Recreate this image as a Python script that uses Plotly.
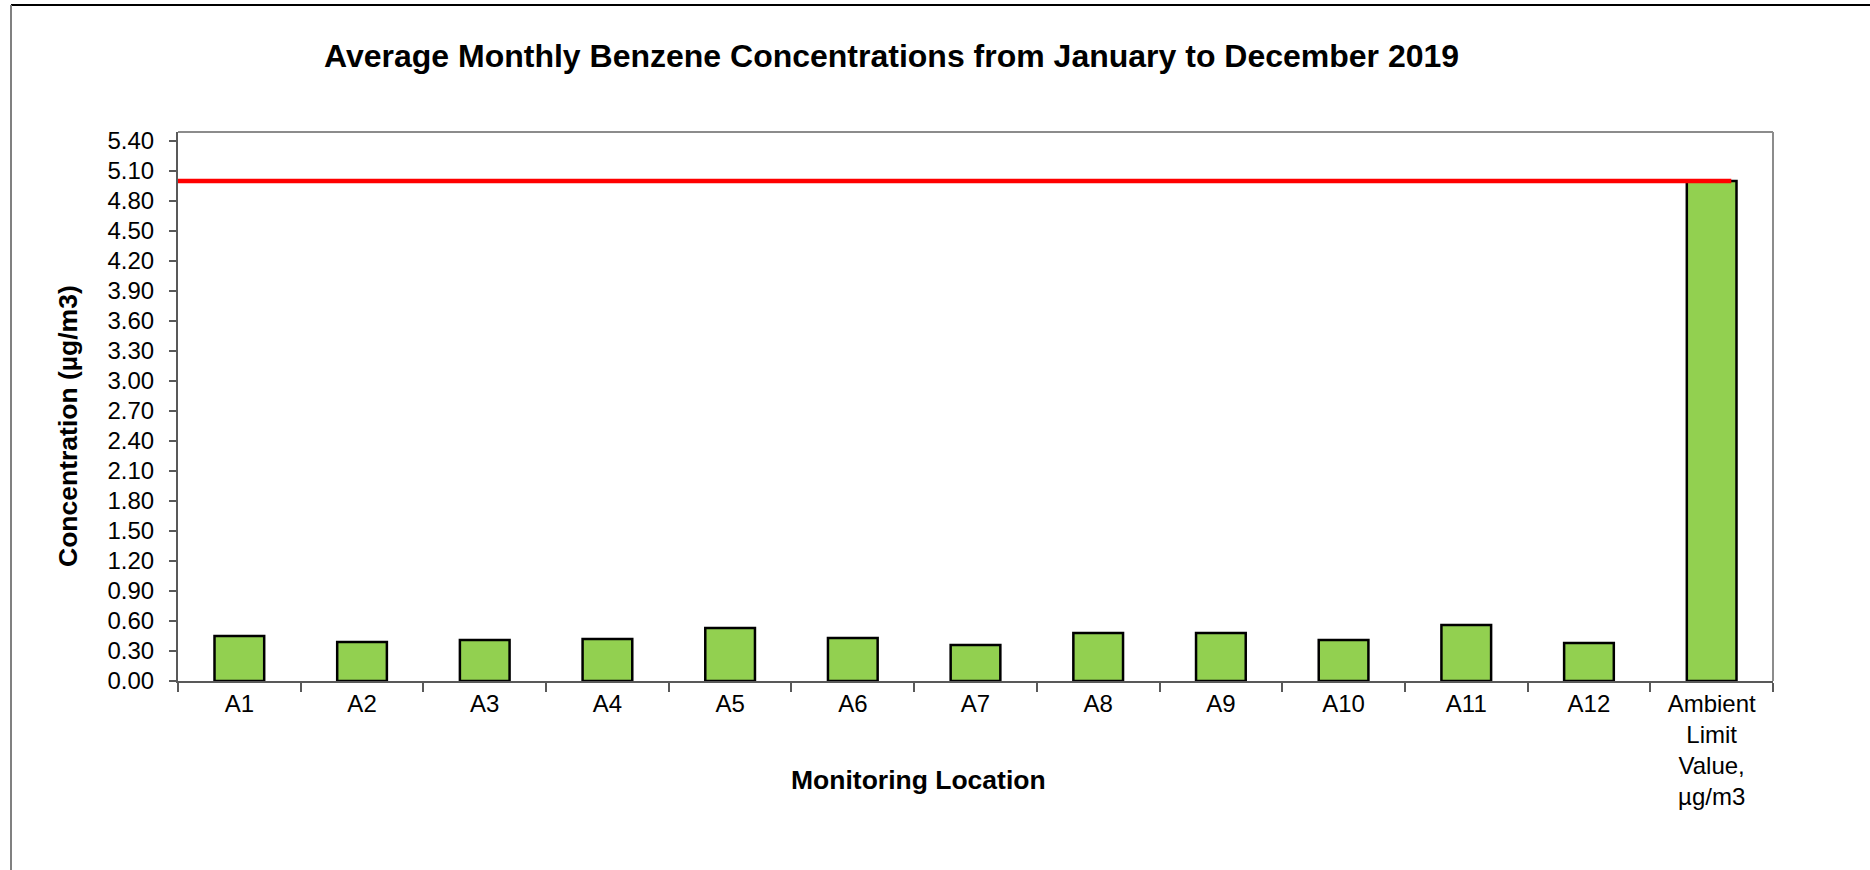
import plotly.graph_objects as go

# ---------------- data ----------------
locations = ["A1", "A2", "A3", "A4", "A5", "A6", "A7", "A8", "A9", "A10", "A11", "A12",
             "Ambient<br>Limit<br>Value,<br>µg/m3"]
concentrations = [0.45, 0.39, 0.41, 0.42, 0.53, 0.43, 0.36, 0.48, 0.48, 0.41, 0.56, 0.38, 5.00]
limit_value = 5.0
title_text = "Average Monthly Benzene Concentrations from January to December 2019"
x_title = "Monitoring Location"
y_title = "Concentration (µg/m3)"

# ---------------- layout geometry (pixels) ----------------
W, H = 1870, 870
L, R, T, B = 178, 1773, 132, 681


def px(xp):
    return (xp - L) / (R - L)


def py(yp):
    return (B - yp) / (B - T)


FONT = "Liberation Sans, Arial, sans-serif"
n = len(locations)

fig = go.Figure()
fig.add_trace(go.Bar(
    x=locations, y=concentrations,
    marker=dict(color="#92D050", line=dict(color="#000000", width=2.5)),
    width=0.405, showlegend=False, hoverinfo="y",
))
fig.add_trace(go.Scatter(
    x=[-0.5, n - 1 + 0.16], y=[limit_value, limit_value],
    mode="lines", line=dict(color="#FF0000", width=4.5),
    xaxis="x2", showlegend=False, hoverinfo="y",
))

axis_col = "#595959"
fig.update_layout(
    width=W, height=H,
    margin=dict(l=L, r=W - R, t=T, b=H - B),
    paper_bgcolor="white", plot_bgcolor="white",
    font=dict(family=FONT, color="#000000", size=24),
    bargap=0.6,
    xaxis=dict(
        type="category", range=[-0.5, n - 0.5],
        tickson="boundaries",
        showgrid=False, zeroline=False,
        showline=True, linecolor=axis_col, linewidth=2,
        ticks="outside", ticklen=9, tickcolor=axis_col, tickwidth=1.5,
        tickfont=dict(size=24, family=FONT, color="#000000"),
    ),
    xaxis2=dict(range=[-0.5, n - 0.5], overlaying="x", visible=False),
    yaxis=dict(
        range=[0, 5.49], tick0=0, dtick=0.3, tickformat=".2f",
        ticklabelstandoff=10,
        showgrid=False, zeroline=False,
        showline=True, linecolor=axis_col, linewidth=2,
        ticks="outside", ticklen=7, tickcolor=axis_col, tickwidth=1.5,
        tickfont=dict(size=24, family=FONT, color="#000000"),
    ),
    shapes=[
        # plot area border (top and right)
        dict(type="line", xref="x domain", yref="y domain", x0=0, x1=1, y0=1, y1=1,
             line=dict(color="#8c8c8c", width=2), layer="below"),
        dict(type="line", xref="x domain", yref="y domain", x0=1, x1=1, y0=0, y1=1,
             line=dict(color="#8c8c8c", width=2), layer="below"),
        # outer chart frame
        dict(type="line", xref="paper", yref="paper", x0=px(11), x1=px(W), y0=py(5), y1=py(5),
             line=dict(color="#000000", width=2)),
        dict(type="line", xref="paper", yref="paper", x0=px(11), x1=px(11), y0=py(5), y1=py(H),
             line=dict(color="#808080", width=2)),
    ],
    annotations=[
        dict(text=f"<b>{title_text}</b>", xref="paper", yref="paper",
             x=px(891), y=py(56), xanchor="center", yanchor="middle",
             showarrow=False, font=dict(size=32, family=FONT, color="#000000")),
        dict(text=f"<b>{x_title}</b>", xref="paper", yref="paper",
             x=px(918), y=py(780), xanchor="center", yanchor="middle",
             showarrow=False, font=dict(size=26.5, family=FONT, color="#000000")),
        dict(text=f"<b>{y_title}</b>", xref="paper", yref="paper", textangle=-90,
             x=px(68), y=py(426), xanchor="center", yanchor="middle",
             showarrow=False, font=dict(size=26.5, family=FONT, color="#000000")),
    ],
)

fig.write_html("out.html", config={"displayModeBar": False},
               post_script="document.body.style.margin='0';document.body.style.overflow='hidden';")
